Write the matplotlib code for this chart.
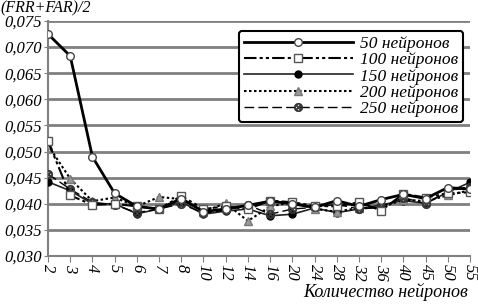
import matplotlib
matplotlib.use("Agg")
import matplotlib.pyplot as plt
from matplotlib.ticker import FuncFormatter

categories = ["2", "3", "4", "5", "6", "7", "8", "10", "12", "14", "16", "20",
              "24", "28", "32", "36", "40", "45", "50", "55"]

n50 = [0.0725, 0.0683, 0.0490, 0.0420, 0.0395, 0.0390, 0.0410, 0.0385, 0.0390, 0.0397,
       0.0405, 0.0400, 0.0393, 0.0406, 0.0395, 0.0408, 0.0418, 0.0410, 0.0431, 0.0428]
n100 = [0.0520, 0.0416, 0.0398, 0.0400, 0.0395, 0.0390, 0.0415, 0.0390, 0.0395, 0.0390,
        0.0406, 0.0403, 0.0396, 0.0395, 0.0403, 0.0387, 0.0419, 0.0412, 0.0420, 0.0422]
n150 = [0.0442, 0.0425, 0.0400, 0.0400, 0.0381, 0.0390, 0.0404, 0.0380, 0.0386, 0.0390,
        0.0377, 0.0380, 0.0392, 0.0383, 0.0390, 0.0398, 0.0406, 0.0401, 0.0422, 0.0441]
n200 = [0.0512, 0.0448, 0.0405, 0.0412, 0.0395, 0.0413, 0.0409, 0.0385, 0.0401, 0.0367,
        0.0395, 0.0403, 0.0390, 0.0385, 0.0392, 0.0393, 0.0408, 0.0405, 0.0416, 0.0426]
n250 = [0.0457, 0.0428, 0.0403, 0.0398, 0.0383, 0.0390, 0.0400, 0.0382, 0.0388, 0.0398,
        0.0380, 0.0390, 0.0393, 0.0399, 0.0390, 0.0393, 0.0412, 0.0400, 0.0424, 0.0433]

labels = ["50 нейронов", "100 нейронов", "150 нейронов", "200 нейронов", "250 нейронов"]
yticks = [0.030, 0.035, 0.040, 0.045, 0.050, 0.055, 0.060, 0.065, 0.070, 0.075]

serif = ["Liberation Serif", "DejaVu Serif"]
plt.rcParams["font.family"] = serif
plt.rcParams["font.style"] = "italic"

fig = plt.figure(figsize=(4.78, 3.05), dpi=100)
ax = fig.add_axes([48 / 478, 49 / 305, 422 / 478, 235 / 305])

x = list(range(len(categories)))
ms = 5.5
ax.plot(x, n50, color="black", lw=2.0, marker="o", ms=ms, mfc="white", mec="#444444",
        mew=1.0, label=labels[0], zorder=5)
ax.plot(x, n100, color="black", lw=1.5, ls=(0, (6, 1.5, 1.5, 1.5, 1.5, 1.5)), marker="s",
        ms=ms, mfc="white", mec="#555555", mew=1.0, label=labels[1], zorder=4)
ax.plot(x, n150, color="#222222", lw=1.2, marker="o", ms=5, mfc="black", mec="black",
        label=labels[2], zorder=3)
ax.plot(x, n200, color="black", lw=1.5, ls=(0, (1.2, 1.2)), marker="^", ms=ms,
        mfc="#999999", mec="#777777", label=labels[3], zorder=3)
ax.plot(x, n250, color="black", lw=1.0, ls=(0, (7, 3)), marker="$\\otimes$", ms=6,
        mfc="#555555", mec="#333333", mew=0.6, label=labels[4], zorder=3)

ax.set_xlim(0, len(categories) - 1)
ax.set_ylim(0.030, 0.075)
ax.set_yticks(yticks)
ax.yaxis.set_major_formatter(FuncFormatter(lambda v, p: f"{v:.3f}".replace(".", ",")))
ax.set_xticks(x)
ax.set_xticklabels(categories, rotation=-90, va="top", ha="center")
ax.tick_params(axis="x", labelsize=12, length=4, color="#808080", pad=2)
ax.tick_params(axis="y", labelsize=12, length=3, color="#808080", pad=1)

ax.grid(axis="y", color="#808080", lw=2)
ax.set_axisbelow(True)
for s in ["top", "right"]:
    ax.spines[s].set_visible(False)
for s in ["left", "bottom"]:
    ax.spines[s].set_color("#808080")
    ax.spines[s].set_linewidth(1.5)

fig.text(0.0, 1.0, "(FRR+FAR)/2", ha="left", va="top", fontsize=11.5)
fig.text(468 / 478, 4 / 305, "Количество нейронов", ha="right", va="bottom", fontsize=13)

leg = ax.legend(loc="upper right", bbox_to_anchor=(1.005, 0.995), fontsize=12.5,
                handlelength=6.3, handletextpad=0.4, labelspacing=0.0,
                borderpad=0.3, frameon=True, fancybox=True, framealpha=1)
leg.get_frame().set_edgecolor("black")
leg.get_frame().set_linewidth(1.5)

fig.savefig("out.png", dpi=100)
